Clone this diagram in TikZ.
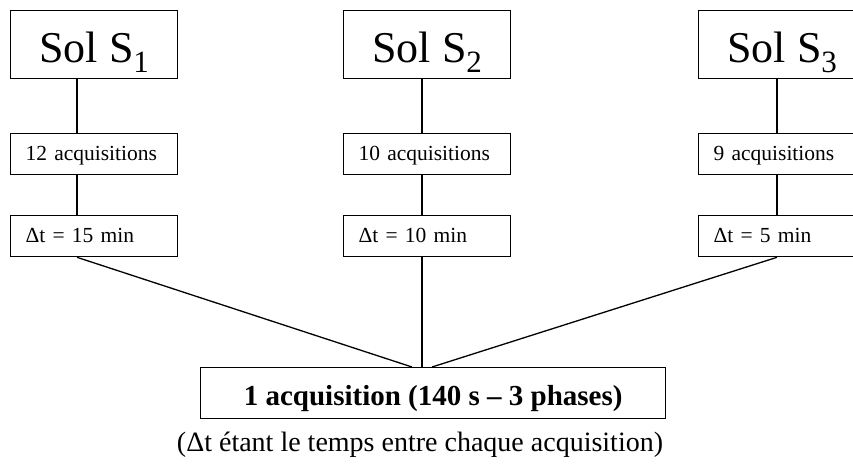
\documentclass[tikz,border=0pt]{standalone}
\usepackage{fontspec}
\setmainfont{Liberation Serif}
\newcommand{\solsub}[1]{\raisebox{-10pt}{\fontsize{31}{31}\selectfont #1}}
\begin{document}
\begin{tikzpicture}[x=1pt,y=-1pt,line width=1.3pt,
  solbox/.style={draw, anchor=north west, minimum width=167pt, minimum height=68pt,
    inner sep=0pt, text height=36pt, text depth=0pt, font=\fontsize{44}{48}\selectfont},
  infobox/.style={draw, anchor=north west, minimum width=167pt, minimum height=41pt,
    text width=137pt, inner xsep=15pt, inner ysep=0pt, align=left,
    text height=16pt, text depth=3pt, font=\fontsize{21.5}{24}\selectfont},
  resbox/.style={draw, anchor=north west, minimum width=465pt, minimum height=51pt,
    inner sep=0pt, text height=25pt, text depth=0pt, font=\fontsize{29}{32}\selectfont\bfseries},
  link/.style={draw=black}
]
\useasboundingbox (0,0) rectangle (853,466);
\clip (0,0) rectangle (853,466);

% solution boxes
\node[solbox] (s1) at (10,10)  {Sol S\solsub{1}};
\node[solbox] (s2) at (343,10) {Sol S\solsub{2}};
\node[solbox] (s3) at (698,10) {Sol S\solsub{3}};

% number of acquisitions
\node[infobox] (a1) at (10,133)  {12 acquisitions};
\node[infobox] (a2) at (343,133) {10 acquisitions};
\node[infobox] (a3) at (698,133) {9 acquisitions};

% time step
\node[infobox] (d1) at (10,215)  {Δt = 15 min};
\node[infobox] (d2) at (343,215) {Δt = 10 min};
\node[infobox] (d3) at (698,215) {Δt = 5 min};

% single acquisition
\node[resbox] (r) at (200,367) {1 acquisition (140 s -- 3 phases)};

\node[anchor=base, inner sep=0pt, font=\fontsize{28}{30}\selectfont] (cap) at (420,451)
  {(Δt étant le temps entre chaque acquisition)};

% vertical axes of the columns
\coordinate (c1) at (77,0);
\coordinate (c2) at (422,0);
\coordinate (c3) at (777,0);
% meeting points on the lower box
\coordinate (e1) at (412,0);
\coordinate (e3) at (432,0);

\draw[link] (s1.south -| c1) -- (a1.north -| c1);
\draw[link] (a1.south -| c1) -- (d1.north -| c1);
\draw[link] (s2.south -| c2) -- (a2.north -| c2);
\draw[link] (a2.south -| c2) -- (d2.north -| c2);
\draw[link] (s3.south -| c3) -- (a3.north -| c3);
\draw[link] (a3.south -| c3) -- (d3.north -| c3);

\draw[link] (d1.south -| c1) -- (r.north -| e1);
\draw[link] (d2.south -| c2) -- (r.north -| c2);
\draw[link] (d3.south -| c3) -- (r.north -| e3);
\end{tikzpicture}
\end{document}
